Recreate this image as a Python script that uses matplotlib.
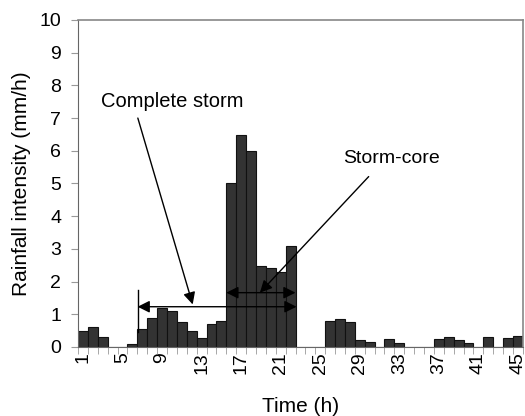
import matplotlib
matplotlib.use("Agg")
import matplotlib.pyplot as plt
import numpy as np

plt.rcParams['font.family'] = ['Liberation Sans', 'DejaVu Sans']

hours = list(range(1, 46))
rain = [0.5, 0.6, 0.3, 0, 0, 0.1, 0.55, 0.9, 1.2, 1.1,
        0.75, 0.5, 0.28, 0.71, 0.8, 5.0, 6.48, 6.0, 2.48, 2.4,
        2.3, 3.1, 0, 0, 0, 0.8, 0.84, 0.76, 0.2, 0.16,
        0, 0.25, 0.12, 0, 0, 0, 0.25, 0.3, 0.2, 0.12,
        0, 0.3, 0, 0.27, 0.34]
xtick_labels = [1, 5, 9, 13, 17, 21, 25, 29, 33, 37, 41, 45]

fig = plt.figure(figsize=(5.25, 4.16), dpi=100)
ax = fig.add_axes([0.1486, 0.166, 0.8474, 0.786])
ax.bar(hours, rain, width=1.0, color='#333333', edgecolor='#111111', linewidth=0.8)
ax.set_xlim(0.5, 45.5)
ax.set_ylim(0, 10)
ax.set_yticks(range(0, 11))
ax.set_xticks(xtick_labels)
ax.set_xticklabels([str(v) for v in xtick_labels], rotation=90, fontsize=14)
ax.tick_params(axis='x', length=0, pad=4)
ax.set_xticks(np.arange(0.5, 46, 1.0), minor=True)
ax.tick_params(axis='x', which='minor', length=5, color='#999999')
ax.tick_params(axis='y', labelsize=14, length=5, color='#999999', pad=7)
for s in ['left', 'bottom']:
    ax.spines[s].set_color('#666666')
for s in ['top', 'right']:
    ax.spines[s].set_color('#888888')
    ax.spines[s].set_linewidth(1.2)
ax.set_xlabel('Time (h)', fontsize=15, labelpad=16)
ax.set_ylabel('Rainfall intensity (mm/h)', fontsize=15, labelpad=6)

# Annotations
ax.plot([6.53, 6.53], [0.45, 1.75], color='black', lw=1.0)
ax.annotate('', xy=(6.53, 1.23), xytext=(22.6, 1.23),
            arrowprops=dict(arrowstyle='<|-|>', color='black', lw=1.0,
                            mutation_scale=18, shrinkA=0, shrinkB=0))
ax.annotate('', xy=(15.5, 1.66), xytext=(22.5, 1.66),
            arrowprops=dict(arrowstyle='<|-|>', color='black', lw=1.0,
                            mutation_scale=18, shrinkA=0, shrinkB=0))
ax.annotate('', xy=(12.1, 1.3), xytext=(6.55, 7.0),
            arrowprops=dict(arrowstyle='-|>', color='black', lw=1.0,
                            mutation_scale=18, shrinkA=0, shrinkB=0))
ax.annotate('', xy=(18.9, 1.66), xytext=(29.9, 5.21),
            arrowprops=dict(arrowstyle='-|>', color='black', lw=1.0,
                            mutation_scale=18, shrinkA=0, shrinkB=0))
ax.text(10.0, 7.5, 'Complete storm', fontsize=14.5, ha='center', va='center')
ax.text(32.2, 5.76, 'Storm-core', fontsize=14, ha='center', va='center')

fig.savefig('out.png', dpi=100)
